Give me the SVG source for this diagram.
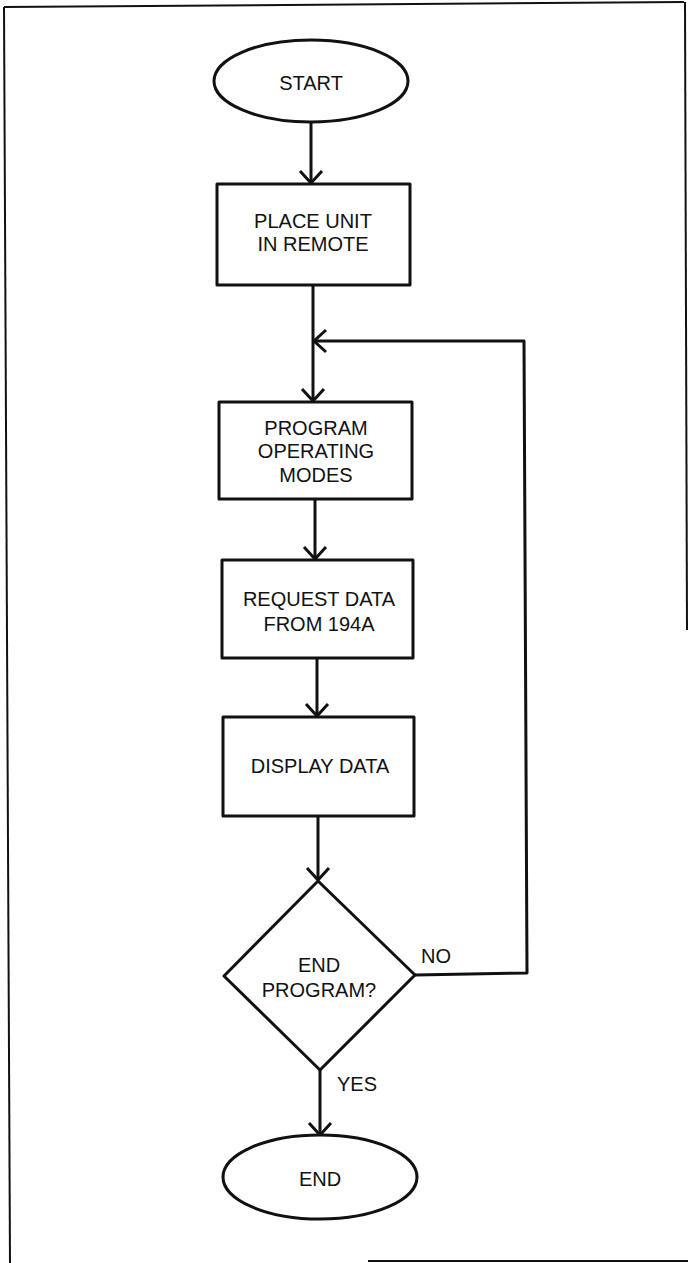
<svg xmlns="http://www.w3.org/2000/svg" width="688" height="1263" viewBox="0 0 688 1263">
<style>
.shape{fill:#fff;stroke:#111;stroke-width:3;stroke-linejoin:round}
.line{fill:none;stroke:#111;stroke-width:3;stroke-linejoin:round}
.border{fill:none;stroke:#111;stroke-width:2}
text{font-family:"Liberation Sans",Arial,sans-serif;font-size:20px;fill:#111;text-anchor:middle}
.lbl{text-anchor:start}
</style>
<defs>
<marker id="arr" markerUnits="userSpaceOnUse" markerWidth="30" markerHeight="30" viewBox="-15 -15 30 30" refX="0" refY="0" orient="auto">
<path d="M-12,-11 L0,0 L-12,11" fill="none" stroke="#111" stroke-width="3" stroke-linejoin="miter"/>
</marker>
</defs>
<rect width="688" height="1263" fill="#fff"/>
<g id="border">
<line class="border" x1="4" y1="7" x2="684" y2="2"/>
<line class="border" x1="4" y1="7" x2="10" y2="1263"/>
<line class="border" x1="685" y1="2" x2="687" y2="630"/>
<line class="border" x1="368" y1="1261" x2="688" y2="1261"/>
</g>
<g id="connectors">
<line class="line" x1="311" y1="122" x2="311" y2="183" marker-end="url(#arr)"/>
<line class="line" x1="313" y1="285" x2="313" y2="401" marker-end="url(#arr)"/>
<line class="line" x1="315" y1="499" x2="315" y2="559" marker-end="url(#arr)"/>
<line class="line" x1="317" y1="658" x2="317" y2="716" marker-end="url(#arr)"/>
<line class="line" x1="318" y1="816" x2="318" y2="880" marker-end="url(#arr)"/>
<line class="line" x1="320" y1="1070" x2="320" y2="1135" marker-end="url(#arr)"/>
<polyline class="line" points="415,975 527,973 524,341 314,341" marker-end="url(#arr)"/>
<text class="lbl" x="421" y="963">NO</text>
<text class="lbl" x="337" y="1091">YES</text>
</g>
<g id="start">
<ellipse class="shape" cx="311" cy="81" rx="97" ry="41"/>
<text x="311" y="90">START</text>
</g>
<g id="place">
<rect class="shape" x="217" y="184" width="193" height="101"/>
<text x="313" y="228">PLACE UNIT</text>
<text x="313" y="251">IN REMOTE</text>
</g>
<g id="program">
<rect class="shape" x="219" y="402" width="193" height="97"/>
<text x="316" y="435">PROGRAM</text>
<text x="316" y="458">OPERATING</text>
<text x="316" y="482">MODES</text>
</g>
<g id="request">
<rect class="shape" x="222" y="560" width="191" height="98"/>
<text x="319" y="606">REQUEST DATA</text>
<text x="319" y="631">FROM 194A</text>
</g>
<g id="display">
<rect class="shape" x="223" y="717" width="191" height="99"/>
<text x="320" y="773">DISPLAY DATA</text>
</g>
<g id="decision">
<polygon class="shape" points="318,881 415,975 320,1070 224,976"/>
<text x="319" y="972">END</text>
<text x="319" y="997">PROGRAM?</text>
</g>
<g id="end">
<ellipse class="shape" cx="320" cy="1177" rx="97" ry="42"/>
<text x="320" y="1186">END</text>
</g>
</svg>
